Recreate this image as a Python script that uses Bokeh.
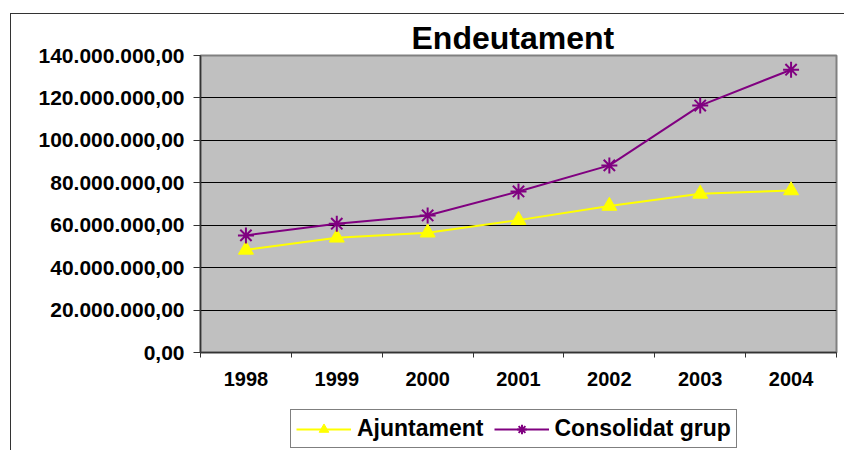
from bokeh.plotting import figure
from bokeh.layouts import column
from bokeh.models import (Range1d, FixedTicker, Title, Legend, LegendItem,
                          ColumnDataSource)
from bokeh.embed import file_html
from bokeh.resources import INLINE

# ---- data ----
years = ["1998", "1999", "2000", "2001", "2002", "2003", "2004"]
ajuntament = [48_400_000, 54_100_000, 56_500_000, 62_400_000, 69_100_000, 74_800_000, 76_400_000]
consolidat = [55_200_000, 60_700_000, 64_600_000, 75_900_000, 88_200_000, 116_400_000, 133_300_000]
y_ticks = [0, 20_000_000, 40_000_000, 60_000_000, 80_000_000, 100_000_000, 120_000_000, 140_000_000]
y_tick_labels = ["0,00", "20.000.000,00", "40.000.000,00", "60.000.000,00",
                 "80.000.000,00", "100.000.000,00", "120.000.000,00", "140.000.000,00"]
series_names = ["Ajuntament", "Consolidat grup"]

FONT = "Liberation Sans"
YELLOW = "#FFFF00"
PURPLE = "#800080"

centers = [i + 0.5 for i in range(len(years))]
bounds = [float(i) for i in range(len(years) + 1)]

src = ColumnDataSource(dict(x=centers, aj=ajuntament, co=consolidat))


def add_series(fig):
    l1 = fig.line("x", "aj", source=src, line_color=YELLOW, line_width=2)
    m1 = fig.scatter("x", "aj", source=src, marker="triangle", size=15,
                     fill_color=YELLOW, line_color=YELLOW)
    l2 = fig.line("x", "co", source=src, line_color=PURPLE, line_width=2)
    m2 = fig.scatter("x", "co", source=src, marker="asterisk", size=16,
                     line_color=PURPLE, line_width=2)
    return (l1, m1), (l2, m2)


p = figure(width=833, height=380, output_backend="svg", toolbar_location=None,
           x_range=Range1d(0, len(years)), y_range=Range1d(0, y_ticks[-1]),
           min_border_left=189, min_border_right=8, min_border_top=41,
           min_border_bottom=42)

p.background_fill_color = "#C0C0C0"
p.border_fill_color = "white"
p.outline_line_color = "#808080"
p.outline_line_width = 2

# title
p.add_layout(Title(text="Endeutament", align="left", offset=211, standoff=-1,
                   text_font=FONT, text_font_size="32px", text_font_style="bold",
                   text_color="black"), "above")

# y axis
yax = p.yaxis[0]
yax.ticker = FixedTicker(ticks=y_ticks)
yax.major_label_overrides = {t: l for t, l in zip(y_ticks, y_tick_labels)}
yax.major_label_text_font = FONT
yax.major_label_text_font_size = "21px"
yax.major_label_text_font_style = "bold"
yax.major_label_text_color = "black"
yax.major_tick_out = 7
yax.major_tick_in = 0
yax.minor_tick_line_color = None
yax.major_label_standoff = 9
yax.axis_line_color = "#333333"
yax.axis_line_width = 1.5
yax.major_tick_line_color = "#333333"

# x axis
xax = p.xaxis[0]
xax.ticker = FixedTicker(ticks=centers, minor_ticks=bounds)
xax.major_label_overrides = {c: y for c, y in zip(centers, years)}
xax.major_label_text_font = FONT
xax.major_label_text_font_size = "20px"
xax.major_label_text_font_style = "bold"
xax.major_label_text_color = "black"
xax.major_tick_line_color = None
xax.major_tick_out = 5
xax.minor_tick_out = 5
xax.minor_tick_in = 0
xax.minor_tick_line_color = "#333333"
xax.major_label_standoff = 14
xax.axis_line_color = "#333333"
xax.axis_line_width = 1.5

# grid
p.xgrid.visible = False
p.ygrid.ticker = FixedTicker(ticks=y_ticks[1:-1])
p.ygrid.grid_line_color = "black"
p.ygrid.grid_line_width = 1

add_series(p)

# ---- legend strip: same series, view range chosen so only the legend shows ----
q = figure(width=833, height=56, output_backend="svg", toolbar_location=None,
           x_range=Range1d(0, len(years)), y_range=Range1d(-2, -1),
           x_axis_location=None, y_axis_location=None,
           min_border=0, min_border_left=0, min_border_right=0,
           min_border_top=0, min_border_bottom=0)
q.grid.visible = False
q.outline_line_color = None
q.background_fill_color = "white"
q.border_fill_color = "white"
(ql1, qm1), (ql2, qm2) = add_series(q)

legend = Legend(items=[LegendItem(label=series_names[0], renderers=[ql1, qm1]),
                       LegendItem(label=series_names[1], renderers=[ql2, qm2])],
                orientation="horizontal", location=(90, 2),
                label_text_font=FONT, label_text_font_size="23px",
                label_text_font_style="bold", label_text_color="black",
                glyph_width=55, glyph_height=24, label_standoff=6, spacing=10,
                padding=5, margin=0, border_line_color="black",
                border_line_width=1, background_fill_color="white")
q.add_layout(legend, "center")

layout = column(p, q, spacing=0, margin=(13, 0, 0, 10),
                styles={"border-left": "1px solid #333333",
                        "border-top": "1px solid #333333"})

open("out.html", "w").write(file_html(layout, INLINE))
